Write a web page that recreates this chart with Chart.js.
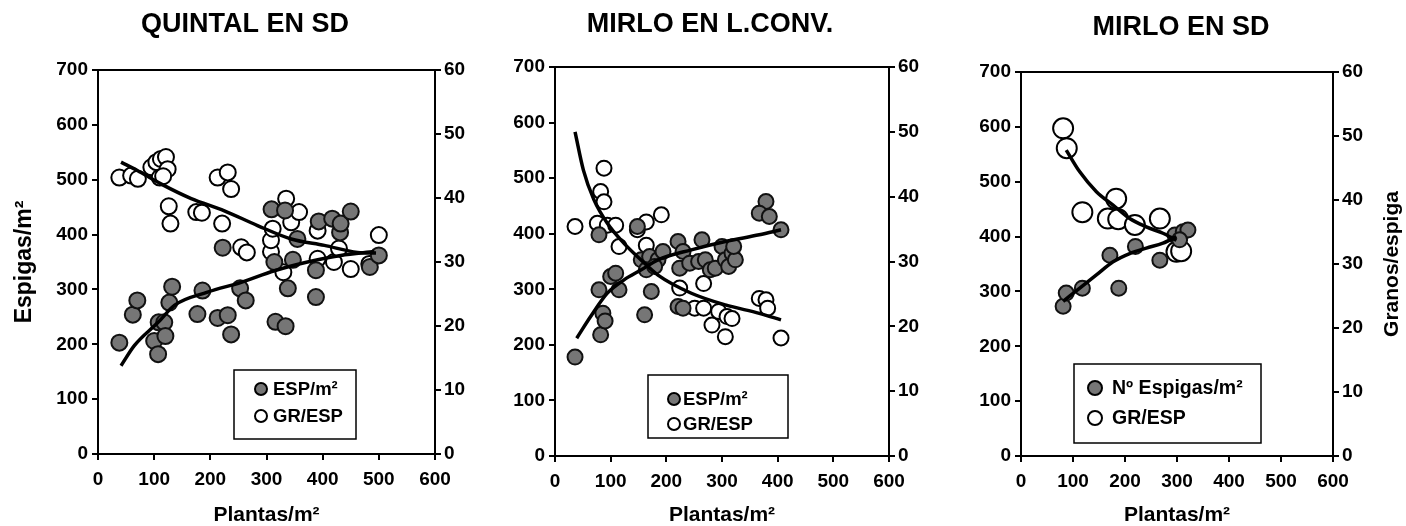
<!DOCTYPE html>
<html>
<head>
<meta charset="utf-8">
<script src="https://cdn.jsdelivr.net/npm/chart.js@4.4.1/dist/chart.umd.min.js"></script>
<style>
  body { margin: 0; background: #fff; }
  #wrap { position: relative; width: 1406px; height: 526px; overflow: hidden; }
  canvas { position: absolute; top: 0; }
</style>
</head>
<body>
<div id="wrap">
  <canvas id="c1" style="left:0px"></canvas>
  <canvas id="c2" style="left:490px"></canvas>
  <canvas id="c3" style="left:956px"></canvas>
</div>
<script>
// axis ticks
const plantasTicks = [0, 100, 200, 300, 400, 500, 600];
const espigasMax = 700;
const granosMax = 60;

// QUINTAL EN SD  [plantas/m2, valor]
const quintalEsp = [[38,203],[62,254],[70,280],[100,206],[107,182],[108,240],[118,240],[120,215],[127,276],[132,305],
  [177,255],[186,298],[213,248],[231,253],[237,218],[222,376],[253,302],[263,280],[309,446],[314,350],[316,241],
  [334,233],[338,302],[333,444],[347,354],[355,392],[388,335],[388,286],[393,424],[417,429],[431,404],[432,420],
  [450,442],[484,341],[500,362]];
const quintalGr = [[38,43.2],[59,43.5],[71,43.0],[95,44.8],[104,45.6],[112,46.1],[121,46.4],[124,44.5],[110,43.2],
  [116,43.4],[126,38.7],[129,36.0],[175,37.8],[185,37.7],[221,36.0],[213,43.2],[231,44.0],[237,41.4],[255,32.3],
  [265,31.5],[308,31.6],[308,33.4],[311,35.2],[335,39.9],[344,36.2],[358,37.8],[330,28.4],[391,34.9],[391,30.5],
  [420,30.0],[429,32.1],[450,28.9],[483,29.7],[500,34.2]];
const quintalEspFit = [[41,161],[65,198],[107,240],[136,271],[195,295],[255,313],[314,334],[373,350],[432,362],[492,369]];
const quintalGrFit = [[41,45.6],[70,44.3],[112,42.2],[166,39.9],[225,38.0],[284,35.7],[344,33.6],[403,32.6],[462,31.5],[495,31.4]];

// MIRLO EN L.CONV.
const mirloLcEsp = [[36,178],[82,218],[86,257],[90,243],[79,299],[100,323],[109,329],[115,299],[79,398],[148,413],
  [161,254],[173,296],[155,353],[170,359],[185,353],[194,368],[164,335],[179,341],[221,386],[230,368],[224,338],
  [264,389],[221,269],[230,266],[242,347],[258,350],[270,353],[279,335],[288,338],[300,377],[306,353],[312,341],
  [318,365],[324,353],[321,377],[379,458],[367,437],[385,431],[406,407]];
const mirloLcGr = [[36,35.4],[88,44.4],[82,40.8],[88,39.2],[76,35.9],[94,35.6],[109,35.6],[115,32.3],[148,34.9],
  [164,36.1],[191,37.2],[164,32.5],[224,25.9],[267,26.6],[251,22.8],[267,22.8],[282,20.2],[294,22.3],[309,21.5],
  [318,21.2],[306,18.4],[367,24.3],[379,24.1],[382,22.8],[406,18.2]];
const mirloLcEspFit = [[39,212],[64,251],[94,293],[124,317],[155,335],[185,353],[245,371],[306,386],[367,398],[406,407]];
const mirloLcGrFit = [[36,50.0],[51,44.1],[70,39.5],[94,35.9],[124,32.8],[155,30.2],[185,27.9],[245,25.1],[306,23.3],[367,22.0],[406,21.0]];

// MIRLO EN SD
const mirloSdEsp = [[81,273],[87,297],[118,306],[171,366],[188,306],[220,382],[267,357],[296,403],[312,409],[321,412],[305,394]];
const mirloSdGr = [[81,51.2],[88,48.1],[118,38.1],[183,40.2],[167,37.1],[187,37.0],[219,36.1],[267,37.1],[299,31.9],[308,32.0]];
const mirloSdEspFit = [[81,282],[113,306],[145,330],[177,354],[209,369],[241,379],[273,388],[299,400]];
const mirloSdGrFit = [[87,47.8],[113,44.4],[145,41.3],[177,39.2],[209,37.1],[241,35.8],[273,34.8],[299,33.7]];

Chart.defaults.font.family = "'Liberation Sans', Arial, sans-serif";
Chart.defaults.font.weight = 'bold';
Chart.defaults.color = '#000';
Chart.defaults.animation = false;

const toXY = arr => arr.map(p => ({x: p[0], y: p[1]}));

// plot frame
const framePlugin = {
  id: 'frame',
  beforeDatasetsDraw(chart) {
    const {ctx, chartArea: a} = chart;
    ctx.save();
    ctx.strokeStyle = '#000';
    ctx.lineWidth = 2;
    ctx.strokeRect(a.left, a.top, a.right - a.left, a.bottom - a.top);
    ctx.restore();
  }
};

// legend box inside the plot
const boxLegend = {
  id: 'boxLegend',
  afterDraw(chart, args, o) {
    if (!o.items) return;
    const {ctx, chartArea: a} = chart;
    const l = a.left + o.left, t = a.top + o.top;
    ctx.save();
    ctx.fillStyle = '#fff';
    ctx.fillRect(l, t, o.width, o.height);
    ctx.strokeStyle = '#000';
    ctx.lineWidth = 1.5;
    ctx.strokeRect(l, t, o.width, o.height);
    ctx.font = 'bold ' + o.size + 'px ' + Chart.defaults.font.family;
    ctx.textBaseline = 'middle';
    o.items.forEach((it, i) => {
      const cy = t + o.rows[i];
      ctx.beginPath();
      ctx.arc(l + o.mark, cy, o.r, 0, Math.PI * 2);
      ctx.fillStyle = it.filled ? '#767676' : '#fff';
      ctx.fill();
      ctx.lineWidth = 2;
      ctx.strokeStyle = '#000';
      ctx.stroke();
      ctx.fillStyle = '#000';
      ctx.fillText(it.text, l + o.text, cy + 1);
    });
    ctx.restore();
  }
};

// right-hand axis title, read bottom to top
const rightTitle = {
  id: 'rightTitle',
  afterDraw(chart, args, o) {
    if (!o.text) return;
    const {ctx, chartArea: a} = chart;
    ctx.save();
    ctx.translate(o.x, (a.top + a.bottom) / 2);
    ctx.rotate(-Math.PI / 2);
    ctx.font = 'bold ' + o.size + 'px ' + Chart.defaults.font.family;
    ctx.textAlign = 'center';
    ctx.textBaseline = 'middle';
    ctx.fillStyle = '#000';
    ctx.fillText(o.text, 0, 0);
    ctx.restore();
  }
};

function makePanel(id, p) {
  const cv = document.getElementById(id);
  cv.width = p.w; cv.height = 526;
  cv.style.width = p.w + 'px'; cv.style.height = '526px';
  const tickGrid = {display: true, drawOnChartArea: false, drawTicks: true, tickLength: 6, color: '#000', lineWidth: 2};
  const titleLine = 27 * 1.2;
  return new Chart(cv, {
    type: 'scatter',
    data: {
      datasets: [
        {type: 'line', data: toXY(p.espFit), yAxisID: 'y', borderColor: '#000', borderWidth: 3.5,
          pointRadius: 0, fill: false, cubicInterpolationMode: 'monotone', order: 0},
        {type: 'line', data: toXY(p.grFit), yAxisID: 'y2', borderColor: '#000', borderWidth: 3.5,
          pointRadius: 0, fill: false, cubicInterpolationMode: 'monotone', order: 0},
        {data: toXY(p.esp), yAxisID: 'y', pointRadius: p.rEsp, pointBackgroundColor: '#767676',
          pointBorderColor: '#111', pointBorderWidth: 2, order: 1},
        {data: toXY(p.gr), yAxisID: 'y2', pointRadius: p.rGr, pointBackgroundColor: '#fff',
          pointBorderColor: '#000', pointBorderWidth: 2, order: 2}
      ]
    },
    options: {
      responsive: false,
      layout: {padding: 0},
      plugins: {
        legend: {display: false},
        tooltip: {enabled: false},
        title: {display: true, text: p.title, font: {size: 27, weight: 'bold'},
          padding: {top: p.titleTop, bottom: p.top - p.titleTop - titleLine}},
        boxLegend: p.legend,
        rightTitle: p.rightTitle || {}
      },
      scales: {
        x: {type: 'linear', min: 0, max: 600,
          afterBuildTicks: s => { s.ticks = plantasTicks.map(v => ({value: v})); },
          afterFit: s => { s.height = 526 - p.bottom; },
          border: {color: '#000', width: 2},
          grid: tickGrid,
          ticks: {font: {size: 19}, padding: 8, maxRotation: 0},
          title: {display: true, text: 'Plantas/m²', font: {size: 21, lineHeight: 1}, padding: {top: 0, bottom: 0}}
        },
        y: {type: 'linear', position: 'left', min: 0, max: espigasMax,
          ticks: {stepSize: 100, font: {size: 19}, padding: 4},
          afterFit: s => { s.width = p.left; },
          border: {color: '#000', width: 2},
          grid: tickGrid,
          title: {display: !!p.leftTitle, text: p.leftTitle || '', font: {size: 23}, padding: {top: 11, bottom: 0}}
        },
        y2: {type: 'linear', position: 'right', min: 0, max: granosMax,
          ticks: {stepSize: 10, font: {size: 19}, padding: 3},
          afterFit: s => { s.width = p.right; },
          border: {color: '#000', width: 2},
          grid: tickGrid
        }
      }
    },
    plugins: [framePlugin, boxLegend, rightTitle]
  });
}

makePanel('c1', {
  w: 490, title: 'QUINTAL EN SD', titleTop: 8, top: 70, bottom: 454, left: 98, right: 490 - 435,
  leftTitle: 'Espigas/m²',
  esp: quintalEsp, gr: quintalGr, espFit: quintalEspFit, grFit: quintalGrFit, rEsp: 8, rGr: 8,
  legend: {left: 136, top: 300, width: 122, height: 69, rows: [19, 46], mark: 27, text: 39, r: 6, size: 18.5,
    items: [{text: 'ESP/m²', filled: true}, {text: 'GR/ESP', filled: false}]}
});

makePanel('c2', {
  w: 440, title: 'MIRLO EN L.CONV.', titleTop: 8, top: 67, bottom: 456, left: 65, right: 440 - 399,
  esp: mirloLcEsp, gr: mirloLcGr, espFit: mirloLcEspFit, grFit: mirloLcGrFit, rEsp: 7.5, rGr: 7.5,
  legend: {left: 93, top: 308, width: 140, height: 63, rows: [24, 49], mark: 26, text: 35, r: 6, size: 18.5,
    items: [{text: 'ESP/m²', filled: true}, {text: 'GR/ESP', filled: false}]}
});

makePanel('c3', {
  w: 450, title: 'MIRLO EN SD', titleTop: 11, top: 72, bottom: 456, left: 65, right: 450 - 377,
  esp: mirloSdEsp, gr: mirloSdGr, espFit: mirloSdEspFit, grFit: mirloSdGrFit, rEsp: 7.5, rGr: 10,
  legend: {left: 53, top: 292, width: 187, height: 79, rows: [24, 54], mark: 21, text: 38, r: 7, size: 19.5,
    items: [{text: 'Nº Espigas/m²', filled: true}, {text: 'GR/ESP', filled: false}]},
  rightTitle: {text: 'Granos/espiga', x: 436, size: 21}
});
</script>
</body>
</html>
